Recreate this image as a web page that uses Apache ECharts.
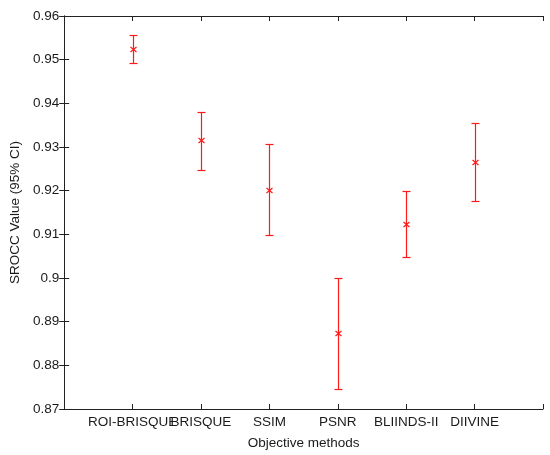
<!DOCTYPE html>
<html><head><meta charset="utf-8">
<script src="https://cdn.jsdelivr.net/npm/echarts@6/dist/echarts.min.js"></script>
<style>html,body{margin:0;padding:0;background:#fff;}#c{width:550px;height:455px;}</style>
</head><body><div id="c"></div>
<script>
var categories = ['ROI-BRISQUE', 'BRISQUE', 'SSIM', 'PSNR', 'BLIINDS-II', 'DIIVINE'];
var meanValues = [0.9524, 0.9315, 0.9202, 0.8873, 0.9123, 0.9265];
var upperValues = [0.9556, 0.9381, 0.9307, 0.9000, 0.9199, 0.9354];
var lowerValues = [0.9492, 0.9247, 0.9099, 0.8746, 0.9047, 0.9176];
var yTicks = [0.87, 0.88, 0.89, 0.90, 0.91, 0.92, 0.93, 0.94, 0.95, 0.96];

var data = categories.map(function (c, i) { return [i + 1, meanValues[i], lowerValues[i], upperValues[i]]; });
var font = 'Liberation Sans, Arial, sans-serif';
var txt = '#1a1a1a';
var fs = 13.5;
function yLab(v) {
  return String(Math.round(v * 100) / 100);
}
var chart = echarts.init(document.getElementById('c'));
var axLine = { show: true, lineStyle: { color: '#222', width: 1 } };
var tick = { show: true, inside: true, length: 5, lineStyle: { color: '#222' } };
chart.setOption({
  animation: false,
  grid: { left: 62, top: 16, right: 7, bottom: 46, containLabel: false },
  xAxis: [{
    type: 'value', min: 0, max: 7, interval: 1, position: 'bottom',
    name: 'Objective methods', nameLocation: 'middle', nameGap: 27,
    nameTextStyle: { fontFamily: font, fontSize: fs, color: txt },
    axisLine: axLine, splitLine: { show: false }, axisTick: tick,
    axisLabel: { margin: 6, fontFamily: font, fontSize: fs, color: txt,
      formatter: function (v) { return (v >= 1 && v <= categories.length) ? categories[v - 1] : ''; } }
  }, {
    type: 'value', min: 0, max: 7, interval: 1, position: 'top',
    axisLine: axLine, splitLine: { show: false }, axisTick: tick,
    axisLabel: { show: false }
  }],
  yAxis: [{
    type: 'value', min: yTicks[0], max: yTicks[yTicks.length - 1], interval: 0.01, position: 'left',
    name: 'SROCC Value (95% CI)', nameLocation: 'middle', nameGap: 42,
    nameTextStyle: { fontFamily: font, fontSize: fs, color: txt },
    axisLine: axLine, splitLine: { show: false }, axisTick: tick,
    axisLabel: { margin: 5, fontFamily: font, fontSize: fs, color: txt, formatter: yLab }
  }, {
    type: 'value', min: yTicks[0], max: yTicks[yTicks.length - 1], interval: 0.01, position: 'right',
    axisLine: axLine, splitLine: { show: false }, axisTick: tick,
    axisLabel: { show: false }
  }],
  series: [{
    type: 'custom',
    xAxisIndex: 0, yAxisIndex: 0,
    data: data,
    renderItem: function (params, api) {
      var x = api.value(0);
      var m = api.coord([x, api.value(1)]);
      var lo = api.coord([x, api.value(2)]);
      var hi = api.coord([x, api.value(3)]);
      var px = Math.round(m[0]) + 0.5;
      var yh = Math.round(hi[1]) + 0.5, yl = Math.round(lo[1]) + 0.5, ym = Math.round(m[1]) + 0.5;
      var cw = 4, mkx = 3, mky = 2.5;
      var st = { stroke: '#ff1a1a', lineWidth: 1.2, fill: null };
      return {
        type: 'group',
        children: [
          { type: 'line', shape: { x1: px, y1: yh, x2: px, y2: yl }, style: st },
          { type: 'line', shape: { x1: px - cw, y1: yh, x2: px + cw, y2: yh }, style: st },
          { type: 'line', shape: { x1: px - cw, y1: yl, x2: px + cw, y2: yl }, style: st },
          { type: 'line', shape: { x1: px - mkx, y1: ym - mky, x2: px + mkx, y2: ym + mky }, style: st },
          { type: 'line', shape: { x1: px - mkx, y1: ym + mky, x2: px + mkx, y2: ym - mky }, style: st }
        ]
      };
    }
  }]
});
</script></body></html>
